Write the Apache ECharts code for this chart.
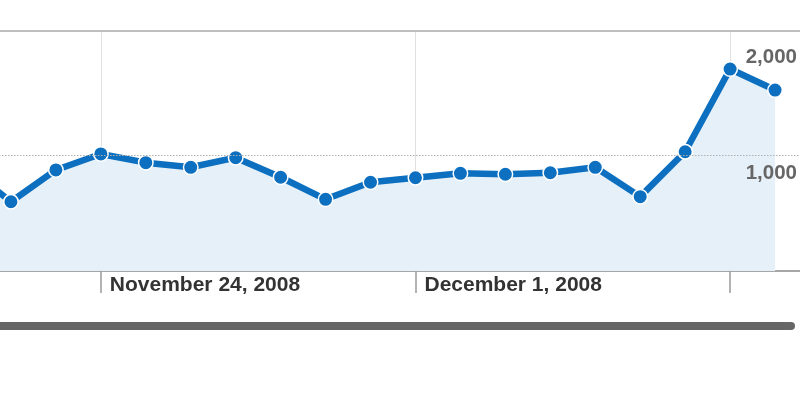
<!DOCTYPE html>
<html>
<head>
<meta charset="utf-8">
<script src="https://cdn.jsdelivr.net/npm/echarts@6/dist/echarts.min.js"></script>
<style>
html,body{margin:0;padding:0;background:#fff;}
#c{width:800px;height:394px;}
</style>
</head>
<body>
<div id="c"></div>
<script>
// ---- data ----
const dates = [
  '2008-11-21','2008-11-22','2008-11-23','2008-11-24','2008-11-25','2008-11-26','2008-11-27',
  '2008-11-28','2008-11-29','2008-11-30','2008-12-01','2008-12-02','2008-12-03','2008-12-04',
  '2008-12-05','2008-12-06','2008-12-07','2008-12-08','2008-12-09','2008-12-10'
];
const visits = [
  900, 597, 871, 1009, 934, 894, 977,
  808, 618, 765, 804, 842, 834, 847,
  894, 641, 1028, 1741, 1560, null
];
const weekTicks = ['2008-11-24', '2008-12-01', '2008-12-08'];
const labelledTicks = ['2008-11-24', '2008-12-01'];
const yTicks = [1000, 2000];
const yTickLabels = ['1,000', '2,000'];
const monthNames = ['January','February','March','April','May','June','July',
  'August','September','October','November','December'];

function fmtDate(s) {
  const p = s.split('-');
  return monthNames[parseInt(p[1], 10) - 1] + ' ' + parseInt(p[2], 10) + ', ' + p[0];
}

const chart = echarts.init(document.getElementById('c'), null, {renderer: 'canvas'});
const option = {
  backgroundColor: '#ffffff',
  animation: false,
  grid: {left: -34, right: -20, top: 31, bottom: 123, containLabel: false, outerBoundsMode: 'none'},
  xAxis: [
    {
      type: 'category',
      data: dates,
      boundaryGap: false,
      position: 'bottom',
      axisLine: {show: true, lineStyle: {color: '#8a8a8a', width: 1.5}},
      axisTick: {
        show: true,
        length: 22,
        interval: (i, v) => weekTicks.indexOf(v) >= 0,
        lineStyle: {color: '#9a9a9a', width: 1.5}
      },
      splitLine: {
        show: true,
        interval: (i, v) => weekTicks.indexOf(v) >= 0,
        lineStyle: {color: '#e0e0e0', width: 1}
      },
      axisLabel: {
        show: true,
        interval: (i, v) => labelledTicks.indexOf(v) >= 0,
        formatter: v => fmtDate(v),
        align: 'left',
        padding: [0, 0, 0, 9],
        margin: 4,
        color: '#333333',
        fontFamily: 'Liberation Sans, Arial, sans-serif',
        fontWeight: 'bold',
        fontSize: 21
      }
    },
    {
      type: 'category',
      data: dates,
      boundaryGap: false,
      position: 'top',
      axisLine: {show: true, lineStyle: {color: '#a8a8a8', width: 1.5}},
      axisTick: {show: false},
      axisLabel: {show: false},
      splitLine: {show: false}
    }
  ],
  yAxis: {
    type: 'value',
    min: 0,
    max: 2069,
    interval: 1000,
    position: 'right',
    z: 10,
    axisLine: {show: false},
    axisTick: {show: false},
    splitLine: {
      show: true,
      lineStyle: {
        color: ['rgba(0,0,0,0)', '#b0b0b0', 'rgba(0,0,0,0)', 'rgba(0,0,0,0)'],
        type: [1.5, 1.5],
        width: 1.2
      }
    },
    axisLabel: {
      show: true,
      inside: true,
      margin: 23,
      verticalAlign: 'top',
      padding: [8, 0, 0, 0],
      formatter: v => {
        const i = yTicks.indexOf(v);
        return i >= 0 ? yTickLabels[i] : '';
      },
      color: '#666666',
      fontFamily: 'Liberation Sans, Arial, sans-serif',
      fontWeight: 'bold',
      fontSize: 20.5
    }
  },
  series: [{
    type: 'line',
    data: visits,
    xAxisIndex: 0,
    symbol: 'circle',
    symbolSize: 14.5,
    showSymbol: true,
    connectNulls: false,
    lineStyle: {color: '#0d6fbf', width: 6.5},
    itemStyle: {color: '#0d6fbf', borderColor: '#ffffff', borderWidth: 1.5},
    areaStyle: {color: '#e5f0f9', opacity: 1},
    z: 3
  }],
  graphic: [{
    type: 'rect',
    left: 0,
    top: 322,
    shape: {width: 795, height: 8, r: [0, 4, 4, 0]},
    style: {fill: '#666666'},
    silent: true
  }]
};
chart.setOption(option);
</script>
</body>
</html>
